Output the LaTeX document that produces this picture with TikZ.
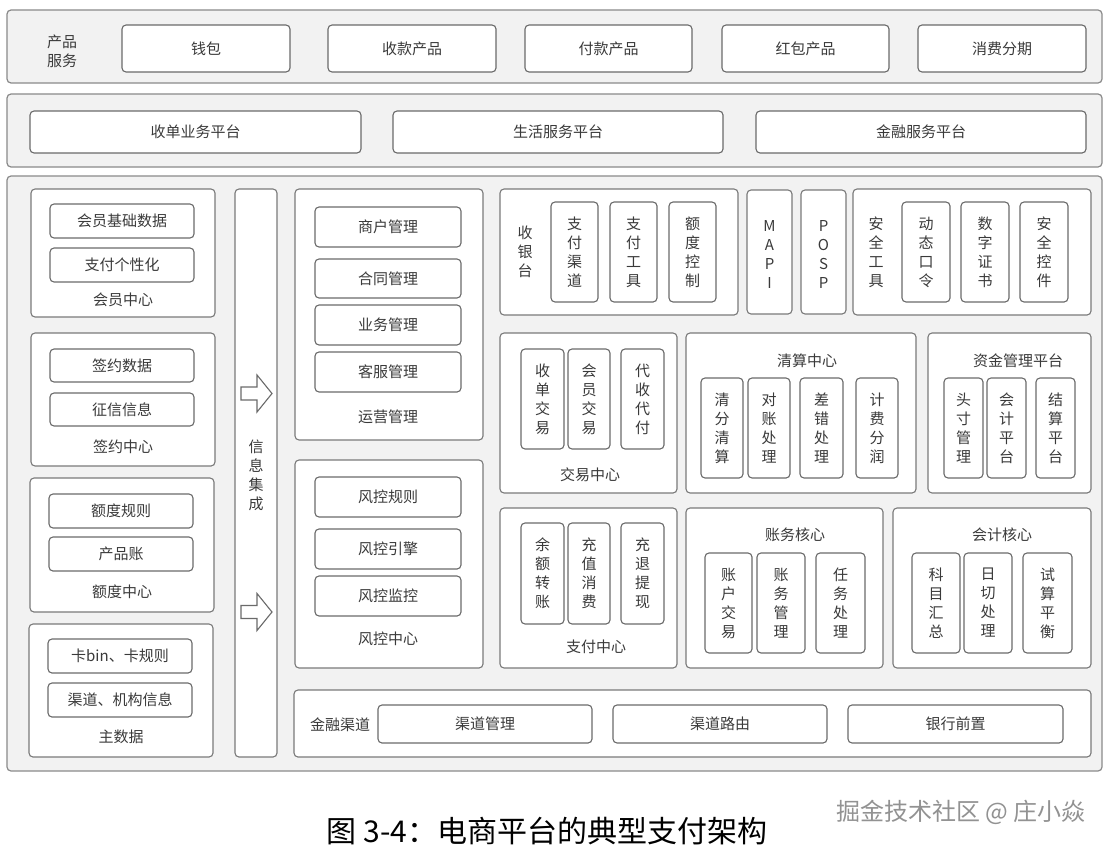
\documentclass[tikz,border=0pt]{standalone}
\usepackage{fontspec}
\setmainfont{Noto Sans CJK SC}
\definecolor{panelc}{HTML}{8A8A8A}
\definecolor{panelf}{HTML}{F2F2F2}
\definecolor{grpc}{HTML}{7A7A7A}
\definecolor{itemc}{HTML}{6A6A6A}
\definecolor{txt}{HTML}{3A3A3A}
\definecolor{wmc}{HTML}{929292}
\newcommand\fsA{\fontsize{15}{19}\selectfont}
\newcommand\bx[7]{%
  \pgfmathsetmacro\bxcx{(#3+#5)/2}%
  \pgfmathsetmacro\bxcy{(#4+#6)/2}%
  \pgfmathsetmacro\bxw{#5-#3}%
  \pgfmathsetmacro\bxh{#6-#4}%
  \node[#1, minimum width=\bxw pt, minimum height=\bxh pt] (#2) at (\bxcx,\bxcy) {#7};}
\begin{document}
\begin{tikzpicture}[x=1pt,y=-1pt,
  panel/.style={draw=panelc, fill=panelf, line width=1.2pt, rounded corners=4pt, inner sep=0pt},
  grp/.style={draw=grpc, fill=white, line width=1.1pt, rounded corners=4pt, inner sep=0pt},
  item/.style={draw=itemc, fill=white, line width=1.1pt, rounded corners=4pt, inner sep=0pt, font=\fsA, text=txt, align=center},
  lbl/.style={text=txt, font=\fsA, inner sep=0pt, align=center},
  blockarrow/.style={draw=itemc, fill=white, line width=1.1pt, line join=miter}]
\path[fill=white] (0,0) rectangle (1115,851);
% ---------- panel 1: product services
\bx{panel}{p1}{7}{10}{1102}{83}{}
\node[lbl] (p1l) at (62,51) {产品\\服务};
\bx{item}{wallet}{122}{25}{290}{72}{钱包}
\bx{item}{skcp}{328}{25}{496}{72}{收款产品}
\bx{item}{fkcp}{525}{25}{692}{72}{付款产品}
\bx{item}{hbcp}{722}{25}{889}{72}{红包产品}
\bx{item}{xffq}{918}{25}{1086}{72}{消费分期}
% ---------- panel 2: platforms
\bx{panel}{p2}{7}{94}{1102}{167}{}
\bx{item}{sdyw}{30}{111}{361}{153}{收单业务平台}
\bx{item}{shfw}{393}{111}{723}{153}{生活服务平台}
\bx{item}{jrfw}{756}{111}{1086}{153}{金融服务平台}
% ---------- panel 3
\bx{panel}{p3}{7}{176}{1102}{771}{}
% left column
\bx{grp}{hyzx}{31}{189}{215}{317}{}
\bx{item}{hyjc}{50}{204}{194}{238}{会员基础数据}
\bx{item}{zfgx}{50}{248}{194}{282}{支付个性化}
\node[lbl] (hyzxl) at (123,300) {会员中心};
\bx{grp}{qyzx}{31}{333}{215}{466}{}
\bx{item}{qysj}{50}{349}{194}{382}{签约数据}
\bx{item}{zxxx}{50}{393}{194}{426}{征信信息}
\node[lbl] (qyzxl) at (123,447) {签约中心};
\bx{grp}{edzx}{30}{478}{214}{612}{}
\bx{item}{edgz}{49}{494}{193}{528}{额度规则}
\bx{item}{cpz}{49}{537}{193}{571}{产品账}
\node[lbl] (edzxl) at (122,592) {额度中心};
\bx{grp}{zsj}{29}{624}{213}{757}{}
\bx{item}{kbin}{48}{639}{192}{673}{卡bin、卡规则}
\bx{item}{qdjg}{48}{683}{192}{717}{渠道、机构信息}
\node[lbl] (zsjl) at (121,737) {主数据};
% info integration column
\bx{grp}{xxjc}{235}{189}{277}{757}{}
\node[lbl] (xxjcl) at (256,475) {信\\息\\集\\成};
\draw[blockarrow] (241,387) -- (257,387) -- (257,375) -- (272,393.5) -- (257,412) -- (257,400) -- (241,400) -- cycle;
\draw[blockarrow] (241,605.5) -- (257,605.5) -- (257,593.5) -- (272,612) -- (257,630.5) -- (257,618.5) -- (241,618.5) -- cycle;
% operations
\bx{grp}{yygl}{295}{189}{483}{440}{}
\bx{item}{shgl}{315}{207}{461}{247}{商户管理}
\bx{item}{htgl}{315}{259}{461}{298}{合同管理}
\bx{item}{ywgl}{315}{305}{461}{345}{业务管理}
\bx{item}{kfgl}{315}{352}{461}{392}{客服管理}
\node[lbl] (yygll) at (388,417) {运营管理};
% risk
\bx{grp}{fkzx}{295}{460}{483}{668}{}
\bx{item}{fkgz}{315}{477}{461}{517}{风控规则}
\bx{item}{fkyq}{315}{529}{461}{569}{风控引擎}
\bx{item}{fkjk}{315}{576}{461}{616}{风控监控}
\node[lbl] (fkzxl) at (388,639) {风控中心};
% financial channel
\bx{grp}{jrqd}{294}{690}{1091}{757}{}
\node[lbl] (jrqdl) at (340,725) {金融渠道};
\bx{item}{qdgl}{378}{705}{592}{743}{渠道管理}
\bx{item}{qdly}{613}{705}{827}{743}{渠道路由}
\bx{item}{yhqz}{848}{705}{1063}{743}{银行前置}
% cashier
\bx{grp}{syt}{500}{189}{738}{315}{}
\node[lbl] (sytl) at (525,252) {收\\银\\台};
\bx{item}{zfqd}{551}{202}{598}{302}{支\\付\\渠\\道}
\bx{item}{zfgj}{610}{202}{657}{302}{支\\付\\工\\具}
\bx{item}{edkz}{669}{202}{716}{302}{额\\度\\控\\制}
\bx{grp}{mapi}{747}{190}{792}{314}{}
\node[lbl] (mapil) at (769.5,254) {M\\A\\P\\I};
\bx{grp}{posp}{801}{190}{846}{314}{}
\node[lbl] (pospl) at (823.5,254) {P\\O\\S\\P};
\bx{grp}{aqgj}{853}{189}{1091}{315}{}
\node[lbl] (aqgjl) at (876,252) {安\\全\\工\\具};
\bx{item}{dtkl}{902}{202}{950}{302}{动\\态\\口\\令}
\bx{item}{szzs}{961}{202}{1009}{302}{数\\字\\证\\书}
\bx{item}{aqkj}{1020}{202}{1068}{302}{安\\全\\控\\件}
% trade center
\bx{grp}{jyzx}{500}{333}{677}{493}{}
\bx{item}{sdjy}{521}{349}{564}{449}{收\\单\\交\\易}
\bx{item}{hyjy}{568}{349}{610}{449}{会\\员\\交\\易}
\bx{item}{dsdf}{621}{349}{664}{449}{代\\收\\代\\付}
\node[lbl] (jyzxl) at (590,475) {交易中心};
% clearing center
\bx{grp}{qszx}{686}{333}{916}{493}{}
\node[lbl] (qszxl) at (807,361) {清算中心};
\bx{item}{qfqs}{701}{378}{743}{478}{清\\分\\清\\算}
\bx{item}{dzcl}{748}{378}{790}{478}{对\\账\\处\\理}
\bx{item}{cccl}{800}{378}{843}{478}{差\\错\\处\\理}
\bx{item}{jffr}{856}{378}{898}{478}{计\\费\\分\\润}
% fund management
\bx{grp}{zjgl}{928}{333}{1091}{493}{}
\node[lbl] (zjgll) at (1018,361) {资金管理平台};
\bx{item}{tcgl}{944}{378}{983}{478}{头\\寸\\管\\理}
\bx{item}{kjpt}{987}{378}{1026}{478}{会\\计\\平\\台}
\bx{item}{jspt}{1036}{378}{1075}{478}{结\\算\\平\\台}
% payment center
\bx{grp}{zfzx}{500}{508}{677}{668}{}
\bx{item}{yezz}{521}{523}{564}{624}{余\\额\\转\\账}
\bx{item}{czxf}{568}{523}{610}{624}{充\\值\\消\\费}
\bx{item}{ctx}{621}{523}{664}{624}{充\\退\\提\\现}
\node[lbl] (zfzxl) at (596,647) {支付中心};
% accounting core
\bx{grp}{zwhx}{686}{508}{883}{668}{}
\node[lbl] (zwhxl) at (795,535) {账务核心};
\bx{item}{zhjy}{705}{553}{752}{653}{账\\户\\交\\易}
\bx{item}{zwgl}{757}{553}{805}{653}{账\\务\\管\\理}
\bx{item}{rwcl}{816}{553}{865}{653}{任\\务\\处\\理}
% bookkeeping core
\bx{grp}{kjhx}{893}{508}{1091}{668}{}
\node[lbl] (kjhxl) at (1002,535) {会计核心};
\bx{item}{kmhz}{912}{553}{960}{653}{科\\目\\汇\\总}
\bx{item}{rqcl}{964}{553}{1012}{653}{日\\切\\处\\理}
\bx{item}{ssph}{1023}{553}{1072}{653}{试\\算\\平\\衡}
% caption and watermark
\node[inner sep=0pt, font=\fontsize{30}{30}\selectfont, text=black] (cap) at (547,831) {图 3-4：电商平台的典型支付架构};
\node[inner sep=0pt, font=\fontsize{24}{24}\selectfont, text=wmc] (wm) at (961,812) {掘金技术社区 @ 庄小焱};
\end{tikzpicture}
\end{document}
